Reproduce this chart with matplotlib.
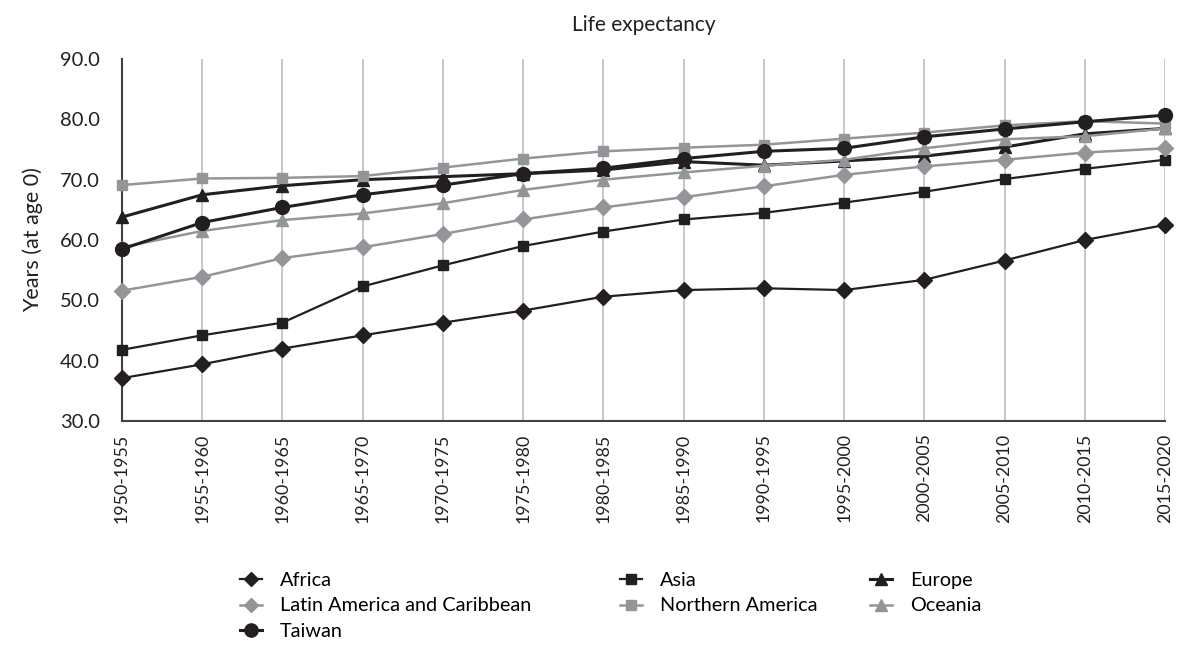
import matplotlib
matplotlib.use("Agg")
import matplotlib.pyplot as plt
from matplotlib.lines import Line2D

plt.rcParams["font.family"] = ["Lato", "DejaVu Sans"]

periods = [
    "1950-1955", "1955-1960", "1960-1965", "1965-1970", "1970-1975",
    "1975-1980", "1980-1985", "1985-1990", "1990-1995", "1995-2000",
    "2000-2005", "2005-2010", "2010-2015", "2015-2020",
]

africa = [37.1, 39.4, 42.0, 44.2, 46.3, 48.3, 50.6, 51.7, 52.0, 51.7, 53.4, 56.6, 60.0, 62.5]
asia = [41.8, 44.2, 46.3, 52.3, 55.8, 59.0, 61.4, 63.4, 64.5, 66.2, 68.0, 70.1, 71.8, 73.3]
europe = [63.8, 67.5, 69.0, 70.0, 70.5, 71.0, 71.6, 73.0, 72.4, 73.1, 73.9, 75.4, 77.6, 78.5]
latin_america = [51.6, 53.9, 57.0, 58.8, 61.0, 63.4, 65.4, 67.1, 68.9, 70.8, 72.2, 73.3, 74.5, 75.2]
northern_america = [69.1, 70.2, 70.3, 70.6, 72.0, 73.5, 74.7, 75.3, 75.8, 76.8, 77.8, 79.0, 79.7, 79.3]
oceania = [58.8, 61.5, 63.3, 64.4, 66.1, 68.3, 70.0, 71.2, 72.3, 73.3, 75.2, 76.7, 77.2, 78.5]
taiwan = [58.5, 62.9, 65.4, 67.5, 69.1, 71.0, 71.9, 73.5, 74.7, 75.2, 77.1, 78.4, 79.6, 80.7]

BLACK = "#231f20"
GREY = "#939598"

# (label, values, color, marker, markersize, linewidth) in drawing order
series = [
    ("Africa", africa, BLACK, "D", 8, 1.6),
    ("Asia", asia, BLACK, "s", 7.5, 1.6),
    ("Europe", europe, BLACK, "^", 9, 2.2),
    ("Latin America and Caribbean", latin_america, GREY, "D", 8, 1.8),
    ("Northern America", northern_america, GREY, "s", 7.5, 1.8),
    ("Oceania", oceania, GREY, "^", 9, 1.8),
    ("Taiwan", taiwan, BLACK, "o", 10, 2.2),
]

fig = plt.figure(figsize=(11.82, 6.45), dpi=100)
ax = fig.add_axes([0.1032, 0.3473, 0.8824, 0.5612])

x = list(range(len(periods)))
handles = {}
for label, vals, color, marker, ms, lw in series:
    (line,) = ax.plot(x, vals, color=color, marker=marker, markersize=ms,
                      linewidth=lw, clip_on=False, zorder=3)
    handles[label] = line

ax.set_xlim(0, len(periods) - 1)
ax.set_ylim(30, 90)
ax.set_yticks(range(30, 91, 10))
ax.set_yticklabels([f"{v:.1f}" for v in range(30, 91, 10)], fontsize=14.5)
ax.set_xticks(x)
ax.set_xticklabels(periods, rotation=90, fontsize=12.8)
ax.tick_params(axis="both", length=0, colors="#231f20")
ax.tick_params(axis="x", pad=9)
ax.tick_params(axis="y", pad=16)

ax.grid(axis="x", color="#bcbec0", linewidth=1.2, zorder=0)
ax.set_axisbelow(True)
for side in ["top", "right"]:
    ax.spines[side].set_visible(False)
for side in ["left", "bottom"]:
    ax.spines[side].set_color("#414042")
    ax.spines[side].set_linewidth(1.5)

ax.set_title("Life expectancy", fontsize=15, pad=20, color="#231f20")
ax.set_ylabel("Years (at age 0)", fontsize=15.5, labelpad=12, color="#231f20")

# legend laid out as three separate columns
columns = [
    (["Africa", "Latin America and Caribbean", "Taiwan"], 0.203),
    (["Asia", "Northern America"], 0.5245),
    (["Europe", "Oceania"], 0.736),
]
for labels, xpos in columns:
    hs = []
    for lab in labels:
        src = handles[lab]
        hs.append(Line2D([], [], color=src.get_color(), marker=src.get_marker(),
                         markersize=src.get_markersize() * 0.95,
                         linewidth=src.get_linewidth()))
    fig.legend(hs, labels, loc="upper left", bbox_to_anchor=(xpos, 0.113),
               bbox_transform=fig.transFigure, frameon=False, fontsize=14.3,
               handlelength=1.1, handletextpad=0.9, labelspacing=0.42,
               borderpad=0, borderaxespad=0)

fig.savefig("out.png", dpi=100)
